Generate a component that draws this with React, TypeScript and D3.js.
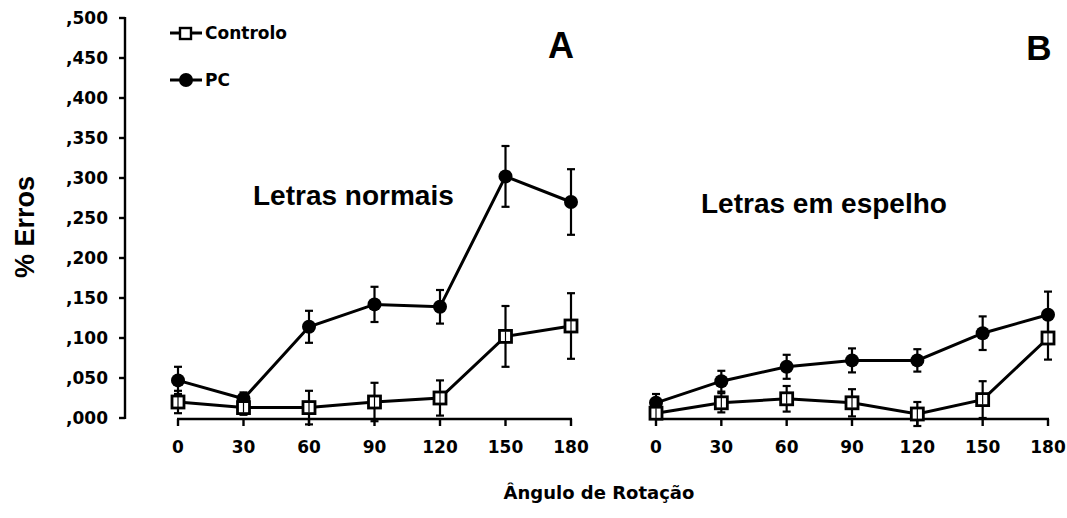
import React from 'react';
import * as d3 from 'd3';

// rotation angles (x categories)
const angles = [0, 30, 60, 90, 120, 150, 180];

// y axis ticks and their labels (Portuguese decimal style)
const yTicks = [0, 0.05, 0.1, 0.15, 0.2, 0.25, 0.3, 0.35, 0.4, 0.45, 0.5];
const yTickLabels = [',000', ',050', ',100', ',150', ',200', ',250', ',300', ',350', ',400', ',450', ',500'];

// Panel A - Letras normais
const controloNormal = [0.020, 0.013, 0.013, 0.020, 0.025, 0.102, 0.115];
const controloNormalErr = [0.014, 0.009, 0.021, 0.024, 0.022, 0.038, 0.041];
const pcNormal = [0.047, 0.024, 0.114, 0.142, 0.139, 0.302, 0.270];
const pcNormalErr = [0.017, 0.008, 0.020, 0.022, 0.021, 0.038, 0.041];

// Panel B - Letras em espelho
const controloMirror = [0.006, 0.019, 0.024, 0.019, 0.005, 0.023, 0.100];
const controloMirrorErr = [0.007, 0.012, 0.016, 0.017, 0.015, 0.023, 0.027];
const pcMirror = [0.019, 0.046, 0.064, 0.072, 0.072, 0.106, 0.129];
const pcMirrorErr = [0.011, 0.013, 0.015, 0.015, 0.014, 0.021, 0.029];

const W = 1067;
const H = 518;
const tickFont = 'DejaVu Sans, sans-serif';
const titleFont = 'Liberation Sans, Arial, sans-serif';

const y = d3.scaleLinear().domain([0, 0.5]).range([418, 18]);
const axisY = 419;

const Series = ({ x, values, errs, marker }) => {
  const line = d3.line().x((d, i) => x(angles[i])).y(d => y(d));
  return (
    <g>
      <path d={line(values)} fill="none" stroke="#000" strokeWidth={3} />
      {values.map((v, i) => {
        const cx = x(angles[i]);
        return (
          <g key={i} stroke="#000" strokeWidth={2.2}>
            <line x1={cx} x2={cx} y1={y(v - errs[i])} y2={y(v + errs[i])} />
            <line x1={cx - 4} x2={cx + 4} y1={y(v + errs[i])} y2={y(v + errs[i])} />
            <line x1={cx - 4} x2={cx + 4} y1={y(v - errs[i])} y2={y(v - errs[i])} />
          </g>
        );
      })}
      {values.map((v, i) => {
        const cx = x(angles[i]);
        const cy = y(v);
        if (marker === 'circle') {
          return <circle key={i} cx={cx} cy={cy} r={7} fill="#000" />;
        }
        return (
          <g key={i}>
            <rect x={cx - 6} y={cy - 6} width={12} height={12} fill="#fff" stroke="#000" strokeWidth={2.8} />
            <line x1={cx} x2={cx} y1={cy - 5} y2={cy + 5} stroke="#000" strokeWidth={1.2} />
          </g>
        );
      })}
    </g>
  );
};

const XAxis = ({ x }) => (
  <g>
    <line x1={x(0) - 1} x2={x(180) + 1} y1={axisY} y2={axisY} stroke="#000" strokeWidth={2.4} />
    {angles.map(a => (
      <g key={a}>
        <line x1={x(a)} x2={x(a)} y1={axisY} y2={axisY + 7} stroke="#000" strokeWidth={2.4} />
        <text x={x(a)} y={453} textAnchor="middle" fontFamily={tickFont} fontWeight="bold" fontSize={17}>{a}</text>
      </g>
    ))}
  </g>
);

const App = () => {
  const xA = d3.scaleLinear().domain([0, 180]).range([178, 571]);
  const xB = d3.scaleLinear().domain([0, 180]).range([656, 1048]);

  return (
    <svg width={W} height={H} style={{ position: 'absolute', left: 0, top: 0, background: '#fff' }}>
      {/* y axis */}
      <line x1={125} x2={125} y1={y(0.5) - 1} y2={y(0) + 1} stroke="#000" strokeWidth={2.4} />
      {yTicks.map((t, i) => (
        <g key={t}>
          <line x1={119} x2={125} y1={y(t)} y2={y(t)} stroke="#000" strokeWidth={2.4} />
          <text x={108} y={y(t)} dy="0.36em" textAnchor="end" fontFamily={tickFont} fontWeight="bold" fontSize={17}>{yTickLabels[i]}</text>
        </g>
      ))}
      <text transform="translate(34,227) rotate(-90)" textAnchor="middle" fontFamily={titleFont} fontWeight="bold" fontSize={27}>% Erros</text>

      <XAxis x={xA} />
      <XAxis x={xB} />

      <Series x={xA} values={pcNormal} errs={pcNormalErr} marker="circle" />
      <Series x={xA} values={controloNormal} errs={controloNormalErr} marker="square" />
      <Series x={xB} values={pcMirror} errs={pcMirrorErr} marker="circle" />
      <Series x={xB} values={controloMirror} errs={controloMirrorErr} marker="square" />

      <text x={253} y={205} fontFamily={titleFont} fontWeight="bold" fontSize={28}>Letras normais</text>
      <text x={701} y={213} fontFamily={titleFont} fontWeight="bold" fontSize={28}>Letras em espelho</text>
      <text x={561} y={58} textAnchor="middle" fontFamily={titleFont} fontWeight="bold" fontSize={36}>A</text>
      <text x={1039} y={60} textAnchor="middle" fontFamily={titleFont} fontWeight="bold" fontSize={35}>B</text>

      {/* legend */}
      <line x1={170} x2={202} y1={33} y2={33} stroke="#000" strokeWidth={3} />
      <rect x={180} y={28} width={11} height={11} fill="#fff" stroke="#000" strokeWidth={2.4} />
      <text x={205} y={33} dy="0.36em" fontFamily={tickFont} fontWeight="bold" fontSize={17}>Controlo</text>
      <line x1={170} x2={202} y1={80} y2={80} stroke="#000" strokeWidth={3} />
      <circle cx={186} cy={80} r={7} fill="#000" />
      <text x={205} y={80} dy="0.36em" fontFamily={tickFont} fontWeight="bold" fontSize={17}>PC</text>

      <text x={599} y={499} textAnchor="middle" fontFamily={tickFont} fontWeight="bold" fontSize={18}>Ângulo de Rotação</text>
    </svg>
  );
};

export default App;
